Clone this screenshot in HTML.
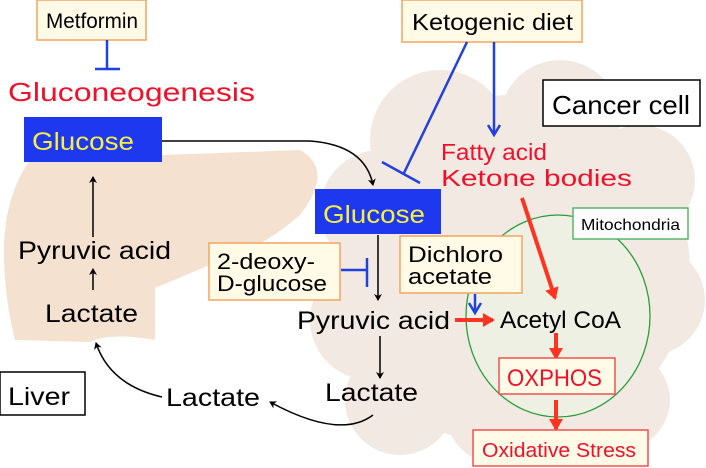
<!DOCTYPE html>
<html><head><style>
body{margin:0;background:#fff}
svg{display:block}
text{font-family:"Liberation Sans",sans-serif}
</style></head><body>
<svg width="706" height="468" viewBox="0 0 706 468" xmlns="http://www.w3.org/2000/svg">
<defs>
<marker id="ab" markerWidth="8" markerHeight="8" refX="6" refY="4" orient="auto" markerUnits="userSpaceOnUse"><path d="M0,0 L7,4 L0,8 L2,4z" fill="#000"/></marker>
<marker id="ar" markerWidth="14" markerHeight="14" refX="10" refY="7" orient="auto" markerUnits="userSpaceOnUse"><path d="M0,0 L12,7 L0,14z" fill="#f32"/></marker>
</defs>
<g fill="#f2e9e3">
<ellipse cx="510" cy="270" rx="180" ry="175"/>
<circle cx="380" cy="210" r="60"/><circle cx="440" cy="140" r="70"/><circle cx="560" cy="120" r="60"/>
<circle cx="640" cy="180" r="55"/><circle cx="650" cy="300" r="55"/><circle cx="620" cy="400" r="50"/>
<circle cx="400" cy="400" r="55"/><circle cx="370" cy="320" r="60"/><circle cx="500" cy="410" r="55"/>
</g>
<path d="M30,160 L300,150 Q335,170 300,215 Q260,250 210,265 L155,288 L155,340 Q110,332 90,342 L15,340 Q5,300 4,260 Q2,200 30,160z" fill="#f5e1cf"/>
<ellipse cx="558" cy="316" rx="92" ry="101" fill="#eef0e4" stroke="#2a9d3a" stroke-width="1.3"/>
<rect x="37" y="0" width="109" height="40" fill="#fffbe6" stroke="#f4a460" stroke-width="1.5"/>
<text x="46" y="28" font-size="21" textLength="92" lengthAdjust="spacingAndGlyphs">Metformin</text>
<g stroke="#2040e0" stroke-width="2.5"><line x1="107" y1="40" x2="107" y2="69"/><line x1="95" y1="69" x2="120" y2="69"/></g>
<text x="8" y="101" font-size="26" fill="#f0102a" textLength="247" lengthAdjust="spacingAndGlyphs">Gluconeogenesis</text>
<rect x="24" y="117" width="138" height="45" fill="#1e38f0"/>
<text x="32" y="150" font-size="25" fill="#f8f040" textLength="102" lengthAdjust="spacingAndGlyphs">Glucose</text>
<path d="M162,141 L310,141 Q365,145 373,185" fill="none" stroke="#000" stroke-width="1.5" marker-end="url(#ab)"/>
<text x="18" y="259" font-size="25" textLength="153" lengthAdjust="spacingAndGlyphs">Pyruvic acid</text>
<line x1="93" y1="237" x2="93" y2="177" stroke="#000" stroke-width="1.5" marker-end="url(#ab)"/>
<line x1="93" y1="290" x2="93" y2="269" stroke="#000" stroke-width="1.5" marker-end="url(#ab)"/>
<text x="45" y="322" font-size="25" textLength="93" lengthAdjust="spacingAndGlyphs">Lactate</text>
<rect x="0" y="372" width="85" height="43" fill="#fff" stroke="#000" stroke-width="1.5"/>
<text x="8" y="405" font-size="25" textLength="62" lengthAdjust="spacingAndGlyphs">Liver</text>
<text x="166" y="406" font-size="25" textLength="94" lengthAdjust="spacingAndGlyphs">Lactate</text>
<path d="M162,397 Q110,385 96,343" fill="none" stroke="#000" stroke-width="1.5" marker-end="url(#ab)"/>
<path d="M373,415 Q340,440 270,402" fill="none" stroke="#000" stroke-width="1.5" marker-end="url(#ab)"/>
<rect x="402" y="0" width="180" height="42" fill="#fffbe6" stroke="#f4a460" stroke-width="1.5"/>
<text x="412" y="30" font-size="23" textLength="161" lengthAdjust="spacingAndGlyphs">Ketogenic diet</text>
<g stroke="#2040e0" stroke-width="2.5" fill="none">
<line x1="467" y1="42" x2="404" y2="173"/><line x1="382" y1="162" x2="420" y2="183"/>
<line x1="494" y1="42" x2="494" y2="133"/><path d="M488,125 L494,135 L500,125"/>
<line x1="341" y1="270" x2="367" y2="270"/><line x1="367" y1="258" x2="367" y2="287"/>
<line x1="475" y1="294" x2="475" y2="312"/><path d="M469,303 L475,313 L481,303"/>
</g>
<rect x="543" y="80" width="157" height="46" fill="#fff" stroke="#000" stroke-width="1.5"/>
<text x="552" y="114" font-size="26" textLength="138" lengthAdjust="spacingAndGlyphs">Cancer cell</text>
<text x="441" y="160" font-size="23" fill="#f0102a" textLength="106" lengthAdjust="spacingAndGlyphs">Fatty acid</text>
<text x="441" y="186" font-size="23" fill="#f0102a" textLength="191" lengthAdjust="spacingAndGlyphs">Ketone bodies</text>
<rect x="315" y="189" width="126" height="45" fill="#1e38f0"/>
<text x="323" y="223" font-size="25" fill="#f8f040" textLength="102" lengthAdjust="spacingAndGlyphs">Glucose</text>
<line x1="378" y1="235" x2="378" y2="300" stroke="#000" stroke-width="1.5" marker-end="url(#ab)"/>
<rect x="209" y="243" width="131" height="57" fill="#fffbe6" stroke="#f4a460" stroke-width="1.5"/>
<text x="217" y="269" font-size="22" textLength="98" lengthAdjust="spacingAndGlyphs">2-deoxy-</text>
<text x="217" y="291" font-size="22" textLength="110" lengthAdjust="spacingAndGlyphs">D-glucose</text>
<rect x="400" y="236" width="122" height="57" fill="#fffbe6" stroke="#f4a460" stroke-width="1.5"/>
<text x="408" y="262" font-size="22" textLength="95" lengthAdjust="spacingAndGlyphs">Dichloro</text>
<text x="408" y="284" font-size="22" textLength="84" lengthAdjust="spacingAndGlyphs">acetate</text>
<text x="297" y="329" font-size="25" textLength="153" lengthAdjust="spacingAndGlyphs">Pyruvic acid</text>
<line x1="455" y1="320" x2="493" y2="320" stroke="#f32" stroke-width="4" marker-end="url(#ar)"/>
<rect x="573" y="208" width="115" height="31" fill="#fff" stroke="#5ab46a" stroke-width="1.5"/>
<text x="581" y="230" font-size="16" textLength="99" lengthAdjust="spacingAndGlyphs">Mitochondria</text>
<text x="500" y="328" font-size="24" textLength="121" lengthAdjust="spacingAndGlyphs">Acetyl CoA</text>
<line x1="522" y1="198" x2="555" y2="298" stroke="#f32" stroke-width="4" marker-end="url(#ar)"/>
<line x1="556" y1="333" x2="556" y2="358" stroke="#f32" stroke-width="4" marker-end="url(#ar)"/>
<rect x="499" y="358" width="116" height="36" fill="#fffbe6" stroke="#f25050" stroke-width="1.5"/>
<text x="507" y="386" font-size="24" fill="#f0102a" textLength="95" lengthAdjust="spacingAndGlyphs">OXPHOS</text>
<line x1="556" y1="400" x2="556" y2="429" stroke="#f32" stroke-width="4" marker-end="url(#ar)"/>
<rect x="473" y="430" width="175" height="36" fill="#fffbe6" stroke="#f25050" stroke-width="1.5"/>
<text x="482" y="457" font-size="20" fill="#f0102a" textLength="154" lengthAdjust="spacingAndGlyphs">Oxidative Stress</text>
<text x="325" y="401" font-size="25" textLength="93" lengthAdjust="spacingAndGlyphs">Lactate</text>
<line x1="380" y1="336" x2="380" y2="378" stroke="#000" stroke-width="1.5" marker-end="url(#ab)"/>
</svg>
</body></html>
